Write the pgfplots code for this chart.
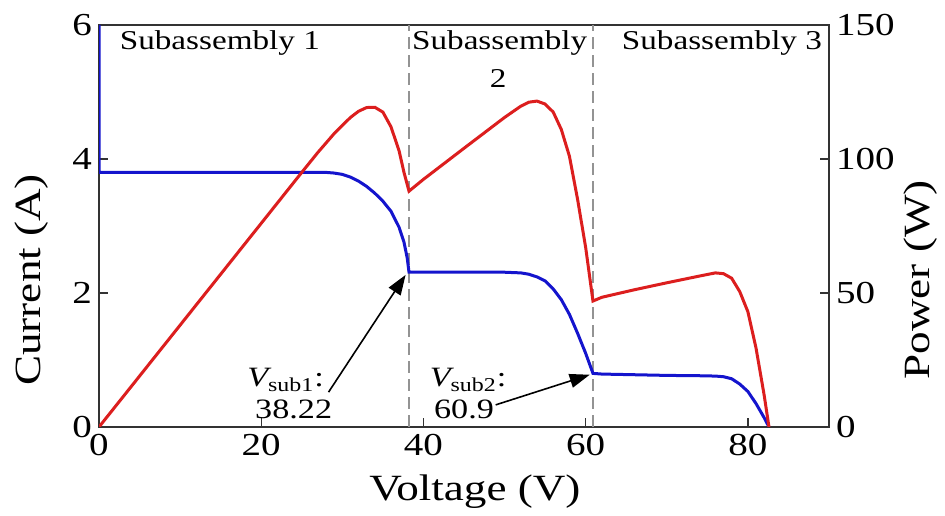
\documentclass[border=0pt]{standalone}
\usepackage{pgfplots}
\pgfplotsset{compat=1.18}
\usepackage{fontspec}
\setmainfont{Liberation Serif}[FakeStretch=1.22]
\usetikzlibrary{arrows.meta}
\definecolor{cblue}{RGB}{20,20,205}
\definecolor{cred}{RGB}{220,30,30}
\begin{document}
\begin{tikzpicture}
\pgfplotsset{
  common/.style={
    scale only axis, width=365pt, height=201pt,
    xmin=0, xmax=90,
    tick align=inside,
    axis line style={black!80, line width=0.7pt},
    major tick style={black!80, line width=0.7pt},
    tick label style={font=\fontsize{16}{16}\selectfont},
    /pgf/number format/assume math mode=true,
    label style={font=\fontsize{18.5}{19}\selectfont},
  }
}
\begin{axis}[common, name=main,
  ymin=0, ymax=6,
  xtick={0,20,40,60,80}, ytick={0,2,4,6},
  xtick pos=bottom, ytick pos=left,
  xlabel={Voltage (V)},
  xlabel style={at={(axis description cs:0.515,-0.162)}, anchor=center},
  ylabel={Current (A)},
  ylabel style={at={(axis description cs:-0.092,0.366)}, anchor=center},
]
\addplot[gray!85, line width=1.3pt, dash pattern=on 6pt off 3pt] coordinates {(38.22,0) (38.22,6)};
\addplot[gray!85, line width=1.3pt, dash pattern=on 6pt off 3pt] coordinates {(60.9,0) (60.9,6)};
\addplot[cblue, line width=1.5pt] coordinates {
(0,6) (0,3.8) (28,3.8) (29,3.79) (30,3.77) (31,3.73) (32,3.67) (33,3.59) (34,3.49)
(35,3.37) (36,3.22) (37,2.98) (37.6,2.76) (38,2.52) (38.22,2.31) (40,2.31) (45,2.31)
(50,2.31) (52,2.3) (53,2.28) (54,2.24) (55,2.18) (56,2.06) (57,1.9) (58,1.68) (59,1.4)
(60,1.1) (60.9,0.8) (62,0.79) (66,0.78) (70,0.77) (74,0.765) (76,0.76) (77,0.75)
(78,0.72) (79,0.64) (80,0.53) (81,0.35) (82,0.14) (82.6,0)
};
\node[anchor=base west, font=\fontsize{13.6}{14}\selectfont] at (axis cs:1.7,5.64) {Subassembly 1};
\node[anchor=base, font=\fontsize{13.6}{14}\selectfont] at (axis cs:49.4,5.64) {Subassembly};
\node[anchor=base, font=\fontsize{13.6}{14}\selectfont] at (axis cs:49.2,5.07) {2};
\node[anchor=base, font=\fontsize{13.6}{14}\selectfont] at (axis cs:76.8,5.64) {Subassembly 3};
\node[anchor=base, font=\fontsize{14}{14}\selectfont] at (axis cs:23,0.6) {{\itshape V}\textsubscript{sub1}:};
\node[anchor=base, font=\fontsize{14}{14}\selectfont] at (axis cs:24,0.13) {38.22};
\node[anchor=base, font=\fontsize{14}{14}\selectfont] at (axis cs:45.5,0.6) {{\itshape V}\textsubscript{sub2}:};
\node[anchor=base, font=\fontsize{14}{14}\selectfont] at (axis cs:45,0.13) {60.9};
\draw[-{Triangle[length=10pt,width=7pt]}, line width=0.8pt] (axis cs:28.3,0.52) -- (axis cs:37.8,2.27);
\draw[-{Triangle[length=10pt,width=7pt]}, line width=0.8pt] (axis cs:48.9,0.33) -- (axis cs:60.5,0.78);
\end{axis}
\begin{axis}[common,
  ymin=0, ymax=150, ytick={0,50,100,150},
  axis y line*=right, axis x line=none,
  ylabel={Power (W)},
  ylabel style={at={(axis description cs:1.125,0.366)}, anchor=center},
]
\addplot[cred, line width=1.5pt] coordinates {
(0,0) (25,95) (27,102.5) (29,109.5) (31,115.5) (32,117.8) (33,119.2) (34,119.3)
(35,117.5) (36,112) (37,103) (37.6,95) (38.22,88) (40,92.4) (45,104) (50,115.5)
(52,119.7) (53,121.2) (54,121.6) (55,120.5) (56,117.5) (57,111) (58,101) (59,85)
(60,67) (60.9,47) (62,48.4) (66,51.2) (70,53.8) (74,56.3) (76,57.5) (77,57.2)
(78,55.5) (79,50.5) (80,43) (81,29.5) (82,12) (82.6,0)
};
\end{axis}
\pgfresetboundingbox
\path[use as bounding box] ([shift={(-49.5pt,-44.5pt)}]main.south west) rectangle ([shift={(58pt,12.5pt)}]main.north east);
\end{tikzpicture}
\end{document}
